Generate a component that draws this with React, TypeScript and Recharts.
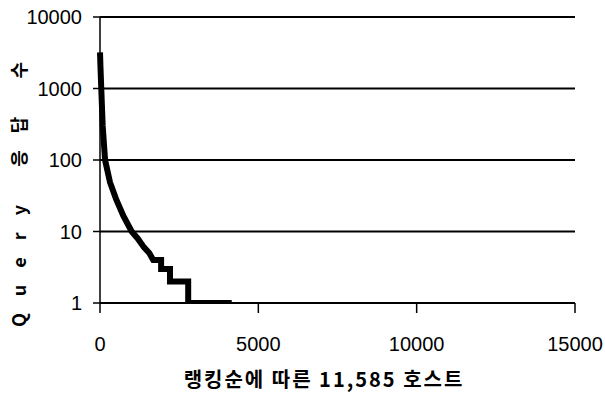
import { CartesianGrid, Label, Line, LineChart, XAxis, YAxis } from "recharts";

// rank of host (sorted by query count) and its query response count
const ranks = [0, 15, 40, 85, 160, 315, 505, 735, 1000, 1190, 1390, 1555, 1680, 1930, 1930, 2210, 2210, 2785, 2785, 4160];
const queries = [3200, 2000, 1000, 300, 100, 49, 28.6, 16.6, 10, 8, 6, 5, 4, 4, 3, 3, 2, 2, 1, 1];

const xTicks = [0, 5000, 10000, 15000];
const yTicks = [1, 10, 100, 1000, 10000];

const xTitle = "랭킹순에 따른 11,585 호스트";
const yTitle = "Query 응답 수";

const data = ranks.map((r, i) => ({ rank: r, count: queries[i] }));

const digitFont = "'Liberation Sans', Arial, sans-serif";
const koFont = "'Noto Sans CJK KR', 'Liberation Sans', sans-serif";

export default function App() {
  return (
    <div style={{ position: "absolute", left: 0, top: 0, width: 605, height: 394, background: "#fff" }}>
      <LineChart width={605} height={394} data={data} margin={{ top: 17, right: 30, left: 0, bottom: 0 }}>
        <CartesianGrid horizontal vertical={false} stroke="#000" strokeWidth={2} />
        <XAxis
          dataKey="rank"
          type="number"
          domain={[0, 15000]}
          ticks={xTicks}
          height={91}
          tickSize={10}
          tickMargin={24}
          axisLine={{ stroke: "#000", strokeWidth: 2 }}
          tickLine={{ stroke: "#000", strokeWidth: 1.5 }}
          tick={{ fill: "#000", fontSize: 20, fontFamily: digitFont }}
        >
          <Label
            content={() => (
              <text
                x={324}
                y={378}
                textAnchor="middle"
                dominantBaseline="central"
                fontSize={20}
                fontWeight="bold"
                letterSpacing={2}
                fontFamily={koFont}
                fill="#000"
              >
                {xTitle}
              </text>
            )}
          />
        </XAxis>
        <YAxis
          type="number"
          scale="log"
          domain={[1, 10000]}
          ticks={yTicks}
          allowDataOverflow
          width={100}
          tickSize={7}
          tickMargin={11}
          axisLine={{ stroke: "#000", strokeWidth: 1.5 }}
          tickLine={{ stroke: "#000", strokeWidth: 1.5 }}
          tick={{ fill: "#000", fontSize: 20, fontFamily: digitFont }}
        >
          <Label
            content={() => (
              <text
                x={18}
                y={186}
                transform="rotate(-90 18 186)"
                textAnchor="middle"
                dominantBaseline="central"
                fontSize={18}
                fontWeight="bold"
                letterSpacing={17}
                fontFamily={koFont}
                fill="#000"
              >
                {yTitle}
              </text>
            )}
          />
        </YAxis>
        <Line
          dataKey="count"
          type="linear"
          stroke="#000"
          strokeWidth={6}
          dot={false}
          isAnimationActive={false}
        />
      </LineChart>
    </div>
  );
}
